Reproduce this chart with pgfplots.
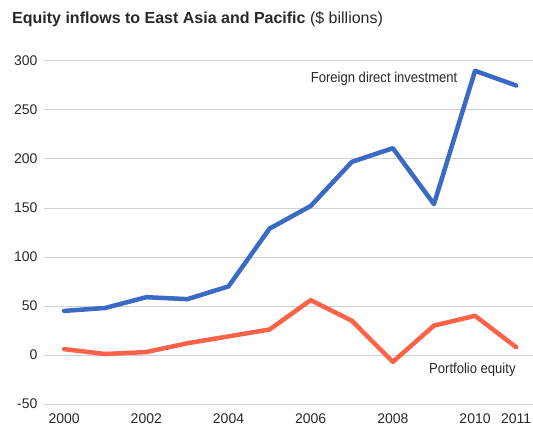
\documentclass[border=0pt]{standalone}
\usepackage{fontspec}
\setmainfont{Liberation Sans}
\newfontfamily\narrow[FakeStretch=0.9]{Liberation Sans}
\usepackage{pgfplots}
\pgfplotsset{compat=1.18}
\definecolor{fdi}{RGB}{59,106,196}
\definecolor{pe}{RGB}{252,98,72}
\definecolor{gridc}{RGB}{208,208,208}
\definecolor{txt}{RGB}{40,40,40}
\begin{document}
\begin{tikzpicture}[x=1pt,y=1pt]
\useasboundingbox (0,0) rectangle (533,426);
\node[anchor=base west, inner sep=0pt, text=txt, font=\fontsize{16}{19}\selectfont] at (12,402)
  {\textbf{Equity inflows to East Asia and Pacific} (\$ billions)};
\begin{axis}[at={(44pt,22pt)}, anchor=south west, scale only axis,
  width=489pt, height=343pt,
  xmin=1999.51, xmax=2011.41, ymin=-50, ymax=300,
  axis line style={draw=none},
  tick style={draw=none},
  ymajorgrids, grid style={gridc, line width=1pt},
  xtick={2000,2002,2004,2006,2008,2010,2011},
  ytick={-50,0,50,100,150,200,250,300},
  /pgf/number format/1000 sep={},
  /pgf/number format/assume math mode=true,
  tick label style={font=\fontsize{14}{16}\selectfont, text=txt},
  xticklabel style={yshift=-6pt},
  yticklabel style={xshift=-3pt},
  clip=false,
  every axis plot/.append style={line width=4.5pt, line join=round, line cap=round},
]
\addplot[fdi, mark=none] coordinates {
(2000,45) (2001,48) (2002,59) (2003,57) (2004,70) (2005,129)
(2006,152) (2007,197) (2008,211) (2009,154) (2010,290) (2011,275)};
\addplot[pe, mark=none] coordinates {
(2000,6) (2001,1) (2002,3) (2003,12) (2004,19) (2005,26)
(2006,56) (2007,35) (2008,-7) (2009,30) (2010,40) (2011,8)};
\node[anchor=west, inner sep=0pt, text=txt, font=\fontsize{14.5}{17}\selectfont\narrow] at (axis cs:2006.0,282) {Foreign direct investment};
\node[anchor=west, inner sep=0pt, text=txt, font=\fontsize{14.5}{17}\selectfont\narrow] at (axis cs:2008.88,-15) {Portfolio equity};
\end{axis}
\end{tikzpicture}
\end{document}
